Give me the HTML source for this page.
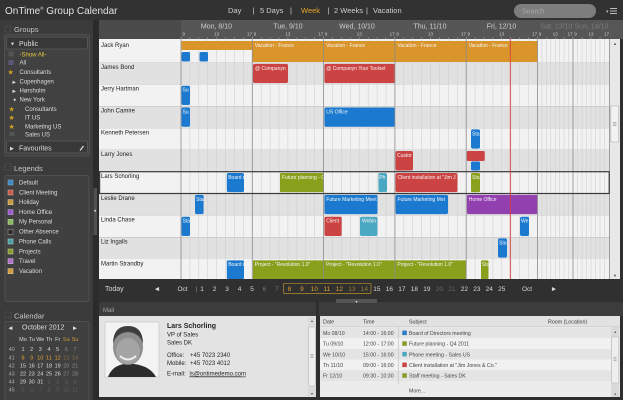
<!DOCTYPE html>
<html><head><meta charset="utf-8"><style>
html,body{margin:0;padding:0;background:#2e2e2e;}
svg{display:block;font-family:"Liberation Sans","DejaVu Sans",sans-serif;}
</style></head><body>
<svg width="623" height="400" viewBox="0 0 623 400" xmlns="http://www.w3.org/2000/svg">
<rect x="0" y="0" width="623" height="400" fill="#2e2e2e"/>
<!-- top bar -->
<rect x="0" y="0" width="623" height="20" fill="#323232"/>
<text x="5" y="14" font-size="10" fill="#e2e2e2">OnTime<tspan font-size="4.5" dy="-4">®</tspan><tspan dy="4"> Group Calendar</tspan></text>
<g font-size="7.5" fill="#cfcfcf">
<text x="228" y="13">Day</text>
<text x="252.5" y="13">|</text>
<text x="260" y="13">5 Days</text>
<text x="290" y="13">|</text>
<text x="301" y="13" fill="#e8a42a">Week</text>
<text x="327.5" y="13">|</text>
<text x="334" y="13">2 Weeks</text>
<text x="366" y="13">|</text>
<text x="373" y="13">Vacation</text>
</g>
<rect x="514" y="4" width="82" height="14" rx="7" fill="#7d7d7d"/>
<text x="522" y="13.5" font-size="7" fill="#a8a8a8">Search</text>
<text x="606" y="13" font-size="5" fill="#bbb">▾</text>
<path d="M610 8.5h7M610 11h7M610 13.5h7" stroke="#bbb" stroke-width="0.9"/>

<!-- sidebar -->
<rect x="0" y="20" width="93" height="380" fill="#3b3b3b"/>
<rect x="93" y="20" width="6" height="380" fill="#2b2b2b"/>
<rect x="93.5" y="188" width="3.5" height="47" fill="#505050"/>
<text x="93.5" y="212" font-size="5" fill="#ccc">◂</text>

<!-- Groups -->
<rect x="5" y="26" width="6" height="6" fill="none" stroke="#666" stroke-width="0.6" stroke-dasharray="1,1"/>
<text x="14" y="32" font-size="7.5" fill="#c8c8c8">Groups</text>
<rect x="4.5" y="34.5" width="85" height="121.5" rx="2" fill="#414141" stroke="#555" stroke-width="0.8"/>
<rect x="6.5" y="37" width="81" height="12" rx="1.5" fill="#383838" stroke="#5c5c5c" stroke-width="0.8"/>
<text x="10" y="45.5" font-size="5" fill="#ddd">▼</text>
<text x="19" y="46" font-size="7" fill="#ddd">Public</text>
<g font-size="6" fill="#dcdcdc">
<rect x="8.5" y="51.5" width="5" height="5" fill="#555"/>
<text x="19.5" y="56.3" fill="#e6c540">-Show All-</text>
<rect x="8.5" y="60" width="5" height="5" fill="#5e5676"/>
<text x="19.5" y="64.7">All</text>
<text x="7.5" y="74.5" font-size="7" fill="#d4a020">★</text>
<text x="19.5" y="74">Consultants</text>
<text x="12.5" y="83.5" font-size="4.5">▶</text>
<text x="19.5" y="83.7">Copenhagen</text>
<text x="12.5" y="92.5" font-size="4.5">▶</text>
<text x="19.5" y="92.7">Hørsholm</text>
<text x="12.5" y="101.5" font-size="4.5">▼</text>
<text x="19.5" y="101.7">New York</text>
<text x="8.5" y="111.5" font-size="7" fill="#d4a020">★</text>
<text x="25" y="111">Consultants</text>
<text x="8.5" y="120.2" font-size="7" fill="#d4a020">★</text>
<text x="25" y="119.7">IT US</text>
<text x="8.5" y="128.8" font-size="7" fill="#d4a020">★</text>
<text x="25" y="128.3">Marketing US</text>
<rect x="9.5" y="132" width="5" height="4" fill="#555"/>
<text x="25" y="136.7">Sales US</text>
</g>
<rect x="6.5" y="141" width="81" height="12" rx="1.5" fill="#383838" stroke="#5c5c5c" stroke-width="0.8"/>
<text x="10" y="150" font-size="5" fill="#ddd">▶</text>
<text x="19" y="150.3" font-size="7" fill="#ddd">Favourites</text>
<path d="M80 150.5l3.5-4.5" stroke="#ddd" stroke-width="1.2"/>

<!-- Legends -->
<rect x="5" y="164" width="6" height="6" fill="none" stroke="#666" stroke-width="0.6" stroke-dasharray="1,1"/>
<text x="14" y="171" font-size="7.5" fill="#c8c8c8">Legends</text>
<rect x="5" y="175.5" width="84" height="126" rx="1.5" fill="#404040" stroke="#555" stroke-width="0.8"/>
<g font-size="6" fill="#dcdcdc" stroke-width="0.6">
<rect x="8" y="180" width="5" height="5" fill="#3b88c8" stroke="#7ab"/><text x="19" y="184.3">Default</text>
<rect x="8" y="190" width="5" height="5" fill="#c85a4a" stroke="#d99"/><text x="19" y="194.3">Client Meeting</text>
<rect x="8" y="199.7" width="5" height="5" fill="#c89a40" stroke="#dc9"/><text x="19" y="204">Holiday</text>
<rect x="8" y="209.7" width="5" height="5" fill="#9a5ac8" stroke="#b9d"/><text x="19" y="214">Home Office</text>
<rect x="8" y="219.4" width="5" height="5" fill="#8ab860" stroke="#bd9"/><text x="19" y="223.7">My Personal</text>
<rect x="8" y="229.4" width="5" height="5" fill="#2a2a2a" stroke="#999"/><text x="19" y="233.7">Other Absence</text>
<rect x="8" y="239" width="5" height="5" fill="#4aa0a0" stroke="#9cc"/><text x="19" y="243.3">Phone Calls</text>
<rect x="8" y="249" width="5" height="5" fill="#8a9a30" stroke="#bc8"/><text x="19" y="253.3">Projects</text>
<rect x="8" y="258.7" width="5" height="5" fill="#b070c8" stroke="#cad"/><text x="19" y="263">Travel</text>
<rect x="8" y="268.7" width="5" height="5" fill="#d09838" stroke="#dc9"/><text x="19" y="273">Vacation</text>
</g>

<!-- Calendar -->
<rect x="5" y="312" width="6" height="6" fill="none" stroke="#666" stroke-width="0.6" stroke-dasharray="1,1"/>
<text x="14" y="318.5" font-size="7.5" fill="#c8c8c8">Calendar</text>
<rect x="5" y="321.5" width="84" height="80" rx="1.5" fill="#404040" stroke="#555" stroke-width="0.8"/>
<text x="8.5" y="329.5" font-size="5" fill="#ddd">◀</text>
<text x="22" y="329.5" font-size="7" fill="#ddd">October 2012</text>
<text x="73" y="329.5" font-size="5" fill="#ddd">▶</text>
<g font-size="5.5" fill="#dcdcdc" text-anchor="middle">
<text x="23" y="341">Mo</text><text x="31.7" y="341">Tu</text><text x="40.3" y="341">We</text><text x="49" y="341">Th</text><text x="57.7" y="341">Fr</text><text x="66.3" y="341" fill="#c89a3a">Sa</text><text x="75" y="341" fill="#c89a3a">Su</text>
<g fill="#aaa"><text x="11.7" y="351">40</text><text x="11.7" y="359.3">41</text><text x="11.7" y="367.3">42</text><text x="11.7" y="375.3">43</text><text x="11.7" y="383.5">44</text><text x="11.7" y="391.5">45</text></g>
<text x="23" y="351">1</text><text x="31.7" y="351">2</text><text x="40.3" y="351">3</text><text x="49" y="351">4</text><text x="57.7" y="351">5</text><text x="66.3" y="351" fill="#8a8a8a">6</text><text x="75" y="351" fill="#8a8a8a">7</text>
<g fill="#e0a030"><text x="23" y="359.3">8</text><text x="31.7" y="359.3">9</text><text x="40.3" y="359.3">10</text><text x="49" y="359.3">11</text><text x="57.7" y="359.3">12</text></g><text x="66.3" y="359.3" fill="#8a7040">13</text><text x="75" y="359.3" fill="#8a7040">14</text>
<text x="23" y="367.3">15</text><text x="31.7" y="367.3">16</text><text x="40.3" y="367.3">17</text><text x="49" y="367.3">18</text><text x="57.7" y="367.3">19</text><text x="66.3" y="367.3" fill="#8a8a8a">20</text><text x="75" y="367.3" fill="#8a8a8a">21</text>
<text x="23" y="375.3">22</text><text x="31.7" y="375.3">23</text><text x="40.3" y="375.3">24</text><text x="49" y="375.3">25</text><text x="57.7" y="375.3">26</text><text x="66.3" y="375.3" fill="#8a8a8a">27</text><text x="75" y="375.3" fill="#8a8a8a">28</text>
<text x="23" y="383.5">29</text><text x="31.7" y="383.5">30</text><text x="40.3" y="383.5">31</text><g fill="#646464"><text x="49" y="383.5">1</text><text x="57.7" y="383.5">2</text><text x="66.3" y="383.5">3</text><text x="75" y="383.5">4</text></g>
<g fill="#5a5a5a"><text x="23" y="391.5">5</text><text x="31.7" y="391.5">6</text><text x="40.3" y="391.5">7</text><text x="49" y="391.5">8</text><text x="57.7" y="391.5">9</text><text x="66.3" y="391.5">10</text><text x="75" y="391.5">11</text></g>
</g>

<!-- grid rows -->
<g>
<rect x="99" y="39" width="511" height="23.6" fill="#f2f2f2"/>
<rect x="99" y="62.6" width="511" height="21.8" fill="#e1e1e1"/>
<rect x="99" y="84.4" width="511" height="21.9" fill="#f2f2f2"/>
<rect x="99" y="106.3" width="511" height="21.8" fill="#e1e1e1"/>
<rect x="99" y="128.1" width="511" height="21.8" fill="#f2f2f2"/>
<rect x="99" y="149.9" width="511" height="21.8" fill="#e1e1e1"/>
<rect x="99" y="171.7" width="511" height="21.8" fill="#f2f2f2"/>
<rect x="99" y="193.5" width="511" height="21.9" fill="#e1e1e1"/>
<rect x="99" y="215.4" width="511" height="21.8" fill="#f2f2f2"/>
<rect x="99" y="237.2" width="511" height="21.8" fill="#e1e1e1"/>
<rect x="99" y="259" width="511" height="20" fill="#f2f2f2"/>
</g>
<path stroke="#d0d0d0" stroke-width="0.6" d="M189.9 39V279M198.8 39V279M207.7 39V279M216.6 39V279M225.6 39V279M234.5 39V279M243.4 39V279M261.2 39V279M270.1 39V279M279 39V279M287.9 39V279M296.9 39V279M305.8 39V279M314.7 39V279M332.5 39V279M341.4 39V279M350.3 39V279M359.2 39V279M368.2 39V279M377.1 39V279M386 39V279M403.8 39V279M412.7 39V279M421.6 39V279M430.5 39V279M439.5 39V279M448.4 39V279M457.3 39V279M475.1 39V279M484 39V279M492.9 39V279M501.8 39V279M510.8 39V279M519.7 39V279M528.6 39V279M541.9 39V279M546.4 39V279M550.8 39V279M555.3 39V279M559.7 39V279M564.1 39V279M568.6 39V279M577.5 39V279M582 39V279M586.5 39V279M591 39V279M595.5 39V279M600 39V279M604.5 39V279"/>
<g font-size="6" fill="#222">
<text x="101" y="47">Jack Ryan</text>
<text x="101" y="68.9">James Bond</text>
<text x="101" y="90.7">Jerry Hartman</text>
<text x="101" y="112.6">John Camire</text>
<text x="101" y="134.4">Kenneth Petersen</text>
<text x="101" y="156.2">Larry Jones</text>
<text x="101" y="178">Lars Schorling</text>
<text x="101" y="199.8">Leslie Drane</text>
<text x="101" y="221.7">Linda Chase</text>
<text x="101" y="243.5">Liz Ingalls</text>
<text x="101" y="265.3">Martin Strandby</text>
</g>

<!-- events -->
<g font-size="5" fill="#f6f6f6">
<rect x="181.5" y="41" width="70.8" height="9" fill="#d9952a"/>
<svg x="252.3" y="41" width="285.2" height="21" overflow="hidden"><rect width="285.2" height="21" fill="#d9952a"/><text x="2.5" y="6">Vacation - France</text><text x="73.8" y="6">Vacation - France</text><text x="145.1" y="6">Vacation - France</text><text x="216.4" y="6">Vacation - France</text></svg>
<rect x="181.5" y="52" width="8.5" height="9.5" rx="1.5" fill="#1b7ad0"/>
<rect x="199.5" y="52" width="8.5" height="9.5" rx="1.5" fill="#1b7ad0"/>

<svg x="253" y="63.8" width="35" height="19.3"><rect width="35" height="19.3" rx="2" fill="#cc4343"/><text x="2" y="6">@ Companyn</text></svg>
<svg x="324.3" y="63.8" width="70.6" height="19.3"><rect width="70.6" height="19.3" rx="2" fill="#cc4343"/><text x="2" y="6">@ Companyn Your Toolset</text></svg>

<svg x="181.5" y="85.6" width="8.5" height="19.5"><rect width="8.5" height="19.5" rx="2" fill="#1b7ad0"/><text x="1" y="6">Su</text></svg>
<svg x="181.5" y="107.4" width="8.5" height="19.5"><rect width="8.5" height="19.5" rx="2" fill="#1b7ad0"/><text x="1" y="6">Su</text></svg>
<svg x="324.3" y="107.4" width="70.6" height="19.5"><rect width="70.6" height="19.5" rx="2" fill="#1b7ad0"/><text x="2" y="6">US Office</text></svg>

<svg x="471" y="129.3" width="9" height="19.5"><rect width="9" height="19.5" rx="2" fill="#1b7ad0"/><text x="1" y="6">Sta</text></svg>

<svg x="395.5" y="151" width="17.5" height="19.5"><rect width="17.5" height="19.5" rx="2" fill="#cc4343"/><text x="1.5" y="6">Custor</text></svg>
<rect x="466.8" y="151" width="18" height="10" rx="1.5" fill="#cc4343"/>
<rect x="471" y="161.5" width="9" height="9" rx="1.5" fill="#1b7ad0"/>

<svg x="226.7" y="173" width="17.3" height="19.3"><rect width="17.3" height="19.3" rx="2" fill="#1b7ad0"/><text x="1.5" y="6">Board m</text></svg>
<svg x="280" y="173" width="43.6" height="19.3"><rect width="43.6" height="19.3" rx="1" fill="#88a01c"/><text x="2" y="6">Future planning - Q</text></svg>
<svg x="378.3" y="173" width="8.7" height="19.3"><rect width="8.7" height="19.3" rx="2" fill="#4aa8c2"/><text x="1" y="6">Ph</text></svg>
<svg x="395.5" y="173" width="62" height="19.3"><rect width="62" height="19.3" rx="2" fill="#cc4343"/><text x="2" y="6">Client installation at "Jim J</text></svg>
<svg x="471" y="173" width="9" height="19.3"><rect width="9" height="19.3" rx="1.5" fill="#88a01c"/><text x="1" y="6">Sta</text></svg>

<svg x="195" y="194.8" width="8.7" height="19.5"><rect width="8.7" height="19.5" rx="2" fill="#1b7ad0"/><text x="1" y="6">Sta</text></svg>
<svg x="324.3" y="194.8" width="53.3" height="19.5"><rect width="53.3" height="19.5" rx="2" fill="#1b7ad0"/><text x="2" y="6">Future Marketing Meet</text></svg>
<svg x="395.5" y="194.8" width="52.5" height="19.5"><rect width="52.5" height="19.5" rx="2" fill="#1b7ad0"/><text x="2" y="6">Future Marketing Met</text></svg>
<svg x="466.8" y="194.8" width="70.7" height="19.5"><rect width="70.7" height="19.5" rx="2" fill="#923fb0"/><text x="2" y="6">Home Office</text></svg>

<svg x="181.5" y="216.6" width="8.5" height="19.5"><rect width="8.5" height="19.5" rx="2" fill="#1b7ad0"/><text x="1" y="6">Sta</text></svg>
<svg x="324.3" y="216.6" width="17.5" height="19.5"><rect width="17.5" height="19.5" rx="2" fill="#cc4343"/><text x="2" y="6">Client</text></svg>
<svg x="360" y="216.6" width="17.5" height="19.5"><rect width="17.5" height="19.5" rx="2" fill="#4aa8c2"/><text x="2" y="6">Webin</text></svg>
<svg x="520" y="216.6" width="9" height="19.5"><rect width="9" height="19.5" rx="2" fill="#1b7ad0"/><text x="1" y="6">We</text></svg>

<svg x="498" y="238.3" width="9" height="19.5"><rect width="9" height="19.5" rx="2" fill="#1b7ad0"/><text x="1" y="6">Sta</text></svg>

<svg x="226.7" y="260.2" width="17.3" height="19"><rect width="17.3" height="19" rx="2" fill="#1b7ad0"/><text x="1.5" y="6">Board m</text></svg>
<svg x="252.8" y="260.2" width="213.4" height="19"><rect width="213.4" height="19" fill="#88a01c"/><text x="2" y="6">Project - "Revolution 1.0"</text><text x="73.3" y="6">Project - "Revolution 1.0"</text><text x="144.6" y="6">Project - "Revolution 1.0"</text></svg>
<svg x="481" y="260.2" width="7.5" height="19"><rect width="7.5" height="19" rx="1.5" fill="#88a01c"/><text x="0.8" y="6">Sta</text></svg>
</g>

<!-- day boundaries -->
<path stroke="#8c8c8c" stroke-width="0.8" d="M181 39V279M252.3 39V279M323.6 39V279M394.9 39V279M466.2 39V279M537.5 39V279M573 39V279M609.5 39V279"/>
<!-- selected row -->
<rect x="99.6" y="171.7" width="509.6" height="21.8" fill="none" stroke="#3a3a3a" stroke-width="1.2"/>
<!-- now line -->
<path d="M510.3 38V279" stroke="#d84040" stroke-width="0.9"/>

<!-- grid scrollbar -->
<rect x="610" y="39" width="10" height="240" fill="#e8e8e8"/>
<text x="615" y="45" font-size="4" fill="#555" text-anchor="middle">▲</text>
<rect x="610.8" y="106" width="8" height="36" rx="1" fill="#f2f2f2" stroke="#a8a8a8" stroke-width="0.6"/>
<path d="M613 122.5h3.5M613 124h3.5M613 125.5h3.5" stroke="#777" stroke-width="0.5"/>
<text x="615" y="277" font-size="4" fill="#555" text-anchor="middle">▼</text>

<!-- grid header -->
<rect x="99" y="20" width="82" height="19" fill="#4b4b4b"/>
<rect x="181" y="20" width="442" height="19" fill="#565656"/>
<g font-size="7" fill="#cfcfcf" text-anchor="middle">
<text x="216.5" y="28.5">Mon, 8/10</text>
<text x="288" y="28.5">Tue, 9/10</text>
<text x="357" y="28.5">Wed, 10/10</text>
<text x="430" y="28.5">Thu, 11/10</text>
<text x="501.5" y="28.5">Fri, 12/10</text>
<text x="556.5" y="28.5" fill="#7c7c7c">Sat, 13/10</text>
<text x="591.5" y="28.5" fill="#7c7c7c">Sun, 14/10</text>
</g>
<g font-size="4.5" fill="#d0d0d0">
<text x="182.5" y="35.5">9</text><text x="216.6" y="35.5" text-anchor="middle">13</text><text x="252" y="35.5" text-anchor="end">17</text>
<text x="253.6" y="35.5">9</text><text x="287.9" y="35.5" text-anchor="middle">13</text><text x="323.3" y="35.5" text-anchor="end">17</text>
<text x="324.9" y="35.5">9</text><text x="359.2" y="35.5" text-anchor="middle">13</text><text x="394.6" y="35.5" text-anchor="end">17</text>
<text x="396.2" y="35.5">9</text><text x="430.5" y="35.5" text-anchor="middle">13</text><text x="465.9" y="35.5" text-anchor="end">17</text>
<text x="467.5" y="35.5">9</text><text x="501.8" y="35.5" text-anchor="middle">13</text><text x="537.2" y="35.5" text-anchor="end">17</text>
<text x="538.8" y="35.5">9</text><text x="555.3" y="35.5" text-anchor="middle">13</text><text x="572.7" y="35.5" text-anchor="end">17</text>
<text x="574.3" y="35.5">9</text><text x="591" y="35.5" text-anchor="middle">13</text><text x="609" y="35.5" text-anchor="end">17</text>
</g>
<path stroke="#bdbdbd" stroke-width="0.5" d="M181 36.5v2.5M189.9 37.3v1.7M198.8 37.3v1.7M207.7 37.3v1.7M216.6 37.3v1.7M225.6 37.3v1.7M234.5 37.3v1.7M243.4 37.3v1.7M252.3 36.5v2.5M261.2 37.3v1.7M270.1 37.3v1.7M279 37.3v1.7M287.9 37.3v1.7M296.9 37.3v1.7M305.8 37.3v1.7M314.7 37.3v1.7M323.6 36.5v2.5M332.5 37.3v1.7M341.4 37.3v1.7M350.3 37.3v1.7M359.2 37.3v1.7M368.2 37.3v1.7M377.1 37.3v1.7M386 37.3v1.7M394.9 36.5v2.5M403.8 37.3v1.7M412.7 37.3v1.7M421.6 37.3v1.7M430.5 37.3v1.7M439.5 37.3v1.7M448.4 37.3v1.7M457.3 37.3v1.7M466.2 36.5v2.5M475.1 37.3v1.7M484 37.3v1.7M492.9 37.3v1.7M501.8 37.3v1.7M510.8 37.3v1.7M519.7 37.3v1.7M528.6 37.3v1.7M537.5 36.5v2.5M546.4 37.3v1.7M555.3 37.3v1.7M564.1 37.3v1.7M573 36.5v2.5M582 37.3v1.7M591 37.3v1.7M600 37.3v1.7"/>

<!-- nav bar -->
<rect x="99" y="279" width="524" height="22" fill="#303030"/>
<g font-size="6.5" fill="#d8d8d8" text-anchor="middle">
<text x="105" y="291" text-anchor="start" font-size="7">Today</text>
<text x="157" y="290.5" font-size="5.5">◀</text>
<text x="182.5" y="291">Oct</text>
<text x="196.5" y="291" fill="#888">|</text>
<text x="202" y="291">1</text><text x="214.5" y="291">2</text><text x="227" y="291">3</text><text x="239.5" y="291">4</text><text x="252" y="291">5</text>
<text x="264.4" y="291" fill="#777">6</text><text x="276.9" y="291" fill="#777">7</text>
<g fill="#e0a030"><text x="289.4" y="291">8</text><text x="301.9" y="291">9</text><text x="314.4" y="291">10</text><text x="326.9" y="291">11</text><text x="339.4" y="291">12</text></g>
<text x="351.9" y="291" fill="#9a7a30">13</text><text x="364.4" y="291" fill="#9a7a30">14</text>
<text x="376.9" y="291">15</text><text x="389.4" y="291">16</text><text x="401.9" y="291">17</text><text x="414.4" y="291">18</text><text x="426.9" y="291">19</text>
<text x="439.4" y="291" fill="#666">20</text><text x="451.9" y="291" fill="#666">21</text>
<text x="464.4" y="291">22</text><text x="476.9" y="291">23</text><text x="489.3" y="291">24</text><text x="501.8" y="291">25</text>
<text x="527" y="291">Oct</text>
<text x="554" y="290.5" font-size="5.5">▶</text>
</g>
<rect x="283.5" y="283.3" width="87.5" height="10.2" rx="1" fill="none" stroke="#b8902c" stroke-width="0.7"/>

<!-- bottom panels -->
<rect x="99" y="302" width="217" height="14" fill="#3c3c3c"/>
<rect x="319" y="302" width="304" height="14" fill="#3c3c3c"/>
<rect x="336" y="299" width="41" height="4" fill="#555"/>
<text x="356.5" y="302.8" font-size="3.5" fill="#ddd" text-anchor="middle">▼</text>
<text x="103" y="312" font-size="6" fill="#a8a8a8">Mail</text>

<rect x="99" y="316" width="217" height="81" fill="#e3e3e3"/>
<rect x="105" y="322" width="54" height="55" fill="#f3f3f3" stroke="#c4c4c4" stroke-width="0.6"/>
<path d="M108 377 Q112 366 124 364 L134 364 Q150 366 156 377 Z" fill="#2c2c2c"/>
<ellipse cx="128" cy="347" rx="15" ry="18" fill="#8e8e8e"/>
<path d="M113 344 Q113 326 128 326 Q143 326 143 344 Q140 333 128 332 Q116 333 113 344 Z" fill="#3e3e3e"/>
<ellipse cx="128" cy="351" rx="12" ry="13" fill="#a4a4a4"/>
<path d="M120 356 Q128 363 136 356" stroke="#eee" stroke-width="2" fill="none"/>
<g font-size="6" fill="#262626">
<text x="167" y="328" font-size="7" font-weight="bold">Lars Schorling</text>
<text x="167" y="336.5">VP of Sales</text>
<text x="167" y="344.3">Sales DK</text>
<text x="167" y="357">Office:</text><text x="190" y="357">+45 7023 2340</text>
<text x="167" y="364.8">Mobile:</text><text x="190" y="364.8">+45 7023 4012</text>
<text x="167" y="375.6">E-mail:</text><text x="189.5" y="375.6" text-decoration="underline">ls@ontimedemo.com</text>
</g>
<path d="M189.5 376.6h52" stroke="#262626" stroke-width="0.4"/>
<rect x="308" y="317" width="8" height="79" fill="#dadada"/>
<text x="312" y="322" font-size="3.5" fill="#555" text-anchor="middle">▲</text>
<rect x="308.6" y="327" width="6.8" height="59" rx="1" fill="#eeeeee" stroke="#b3b3b3" stroke-width="0.5"/>
<path d="M310.5 354.5h3M310.5 356h3M310.5 357.5h3" stroke="#777" stroke-width="0.5"/>
<text x="312" y="395" font-size="3.5" fill="#555" text-anchor="middle">▼</text>

<rect x="320" y="316" width="300" height="81" fill="#ececec"/>
<rect x="320" y="316" width="300" height="10" fill="#e2e2e2"/>
<path d="M320 326.5h300" stroke="#bbb" stroke-width="0.6"/>
<g font-size="5.3" fill="#3a3a3a">
<text x="323" y="323.5">Date</text><text x="363" y="323.5">Time</text><text x="409" y="323.5">Subject</text><text x="548" y="323.5">Room (Location)</text>
</g>
<rect x="320" y="327.5" width="291" height="10.7" fill="#e4e4e4"/>
<rect x="320" y="338.2" width="291" height="10.7" fill="#f1f1f1"/>
<rect x="320" y="348.9" width="291" height="10.7" fill="#e4e4e4"/>
<rect x="320" y="359.6" width="291" height="10.7" fill="#f1f1f1"/>
<rect x="320" y="370.3" width="291" height="10.7" fill="#e4e4e4"/>
<path d="M398.5 327V384" stroke="#b8b8b8" stroke-width="0.5"/>
<g font-size="5.2" fill="#444">
<text x="323" y="335">Mo 08/10</text><text x="363" y="335">14:00 - 16:00</text><rect x="402.3" y="330.6" width="4.5" height="4.5" fill="#2a7ac8"/><text x="409" y="335">Board of Directors meeting</text>
<text x="323" y="345.7">Tu 09/10</text><text x="363" y="345.7">12:00 - 17:00</text><rect x="402.3" y="341.3" width="4.5" height="4.5" fill="#8a9a28"/><text x="409" y="345.7">Future planning - Q4 2011</text>
<text x="323" y="356.3">We 10/10</text><text x="363" y="356.3">15:00 - 16:00</text><rect x="402.3" y="351.9" width="4.5" height="4.5" fill="#4aa8c2"/><text x="409" y="356.3">Phone meeting - Sales US</text>
<text x="323" y="367">Th 11/10</text><text x="363" y="367">09:00 - 16:00</text><rect x="402.3" y="362.6" width="4.5" height="4.5" fill="#cc4343"/><text x="409" y="367">Client installation at "Jim Jones &amp; Co."</text>
<text x="323" y="377.7">Fr 12/10</text><text x="363" y="377.7">09:30 - 10:30</text><rect x="402.3" y="373.3" width="4.5" height="4.5" fill="#8a9a28"/><text x="409" y="377.7">Staff meeting - Sales DK</text>
<text x="409" y="392.5">More...</text>
</g>
<rect x="611" y="327" width="8.5" height="70" fill="#dadada"/>
<text x="615.2" y="333" font-size="3.5" fill="#555" text-anchor="middle">▲</text>
<rect x="611.6" y="337" width="7.2" height="46" rx="1" fill="#eeeeee" stroke="#b3b3b3" stroke-width="0.5"/>
<path d="M613.5 357.5h3M613.5 359h3M613.5 360.5h3" stroke="#777" stroke-width="0.5"/>
<text x="615.2" y="395.5" font-size="3.5" fill="#555" text-anchor="middle">▼</text>
</svg>
</body></html>
